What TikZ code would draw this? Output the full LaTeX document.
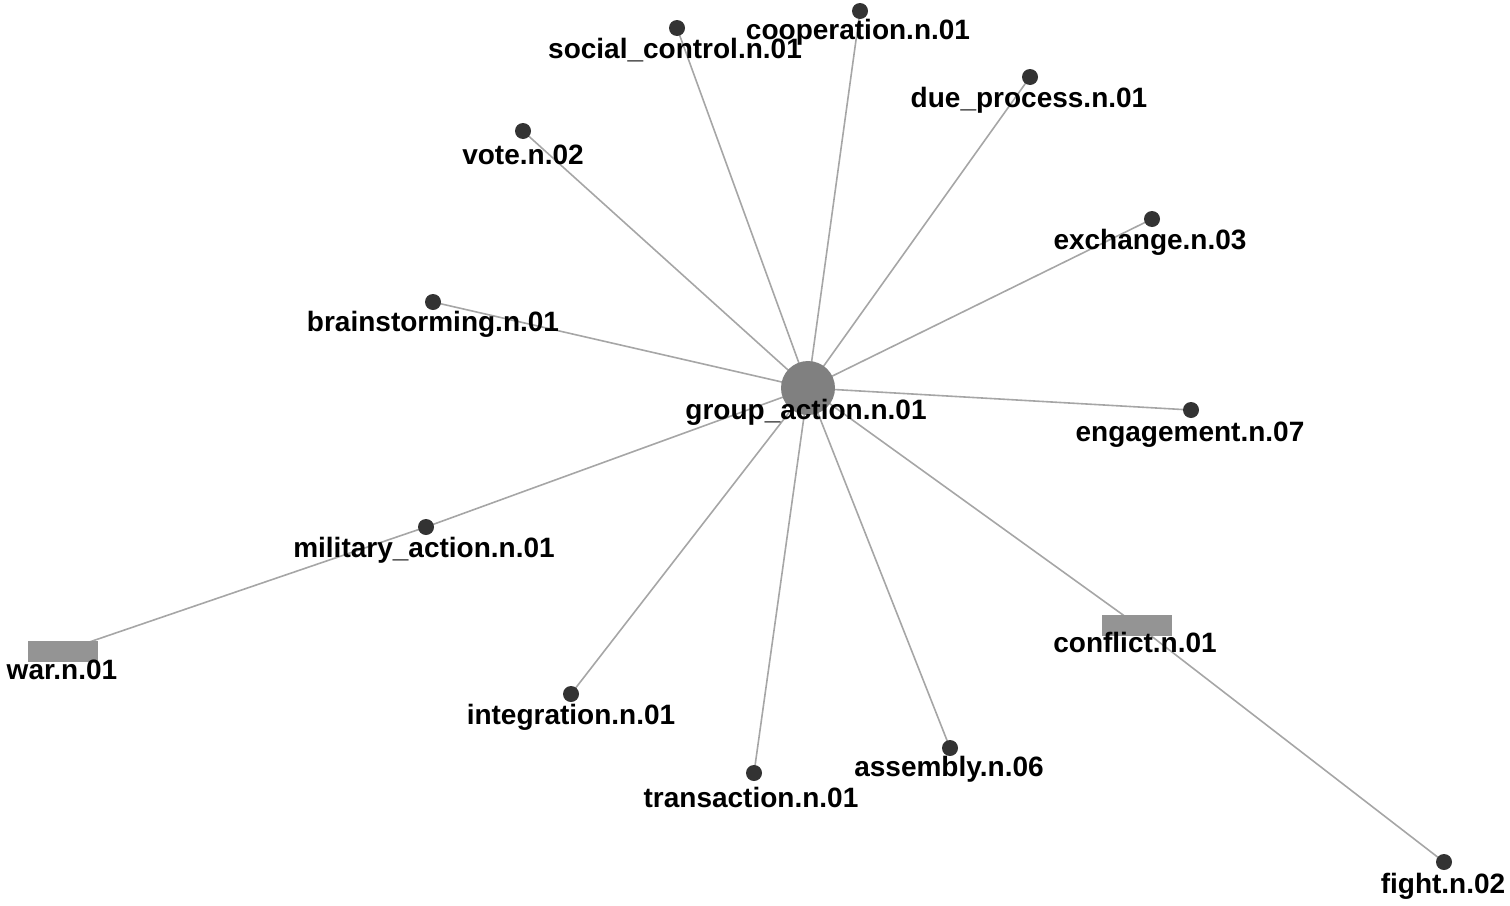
\documentclass[tikz,border=0pt]{standalone}
\usepackage{fontspec}
\setmainfont{Liberation Sans}
\usetikzlibrary{backgrounds}
\begin{document}
\begin{tikzpicture}[x=1pt,y=-1pt,
  dot/.style={circle,fill=black!80,inner sep=0pt,minimum size=16pt},
  hub/.style={circle,fill=black!50,inner sep=0pt,minimum size=54pt},
  box/.style={rectangle,fill=black!42,inner sep=0pt,minimum width=70pt,minimum height=21pt},
  lbl/.style={inner sep=0pt,font=\fontsize{28}{30}\selectfont\bfseries,text=black,yshift=-2.5pt},
  edge/.style={draw=black!35,line width=1.6pt}]
\useasboundingbox (0,0) rectangle (1510,905);
% nodes
\node[hub] (ga) at (808,388) {};
\node[dot] (sc) at (677,28) {};
\node[dot] (co) at (860,11) {};
\node[dot] (dp) at (1030,77) {};
\node[dot] (vo) at (523,131) {};
\node[dot] (ex) at (1152,219) {};
\node[dot] (br) at (433,302) {};
\node[dot] (en) at (1191,410) {};
\node[dot] (ma) at (426,527) {};
\node[box] (wa) at (63,651) {};
\node[dot] (in) at (571,694) {};
\node[dot] (tr) at (754,773) {};
\node[dot] (as) at (950,748) {};
\node[box] (cf) at (1137,625) {};
\node[dot] (fi) at (1444,862) {};
% edges
\begin{scope}[on background layer]
\foreach \n in {sc,co,dp,vo,ex,br,en,ma,in,tr,as,cf}
  \draw[edge] (ga.center) -- (\n.center);
\draw[edge] (ma.center) -- (wa.center);
\draw[edge] (cf.center) -- (fi.center);
\end{scope}
% labels
\node[lbl] (ga-l) at (806,410) {group\_action.n.01};
\node[lbl] (sc-l) at (675,48) {social\_control.n.01};
\node[lbl] (co-l) at (858,30) {cooperation.n.01};
\node[lbl] (dp-l) at (1029,98) {due\_process.n.01};
\node[lbl] (vo-l) at (523,152) {vote.n.02};
\node[lbl] (ex-l) at (1150,240) {exchange.n.03};
\node[lbl] (br-l) at (433,322) {brainstorming.n.01};
\node[lbl] (en-l) at (1190,432) {engagement.n.07};
\node[lbl] (ma-l) at (424,548) {military\_action.n.01};
\node[lbl] (wa-l) at (62,667) {war.n.01};
\node[lbl] (in-l) at (571,715) {integration.n.01};
\node[lbl] (tr-l) at (751,795) {transaction.n.01};
\node[lbl] (as-l) at (949,767) {assembly.n.06};
\node[lbl] (cf-l) at (1135,640) {conflict.n.01};
\node[lbl] (fi-l) at (1443,884) {fight.n.02};
\end{tikzpicture}
\end{document}
